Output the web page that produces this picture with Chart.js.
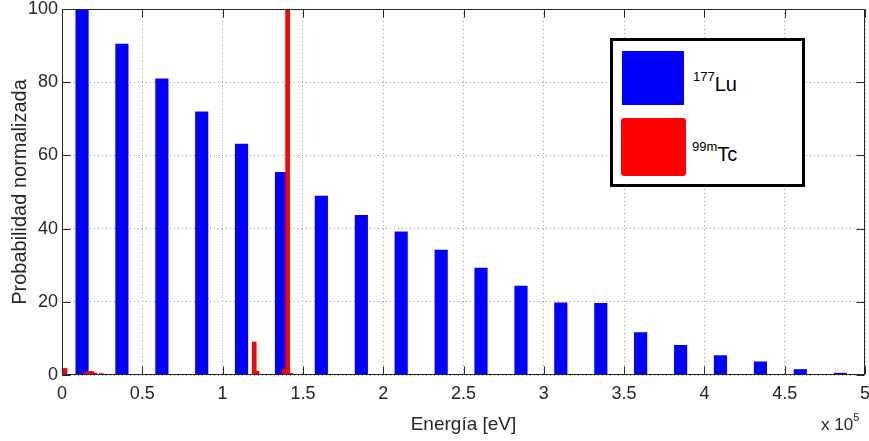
<!DOCTYPE html>
<html>
<head>
<meta charset="utf-8">
<title>Espectros 177Lu y 99mTc</title>
<script src="https://cdn.jsdelivr.net/npm/chart.js@4/dist/chart.umd.min.js"></script>
<style>
  body { margin: 0; background: #fff; }
  #wrap { position: relative; width: 869px; height: 441px; font-family: "Liberation Sans", Arial, sans-serif; color: #000; }
  #legend { position: absolute; left: 610px; top: 38px; width: 189px; height: 143px; border: 3px solid #000; background: #fff; }
  .swatch { position: absolute; }
  .label { position: absolute; font-size: 20px; line-height: 20px; white-space: nowrap; }
  .label sup, #mult sup { vertical-align: baseline; position: relative; font-size: 13px; }
  .label sup { top: -10px; }
  #mult { position: absolute; left: 821px; top: 416px; font-size: 17px; line-height: 17px; color: #262626; }
  #mult sup { top: -9px; font-size: 11px; }
</style>
</head>
<body>
<div id="wrap">
  <canvas id="spectrum" width="869" height="441"></canvas>
  <div id="legend">
    <div class="swatch" style="left:9px;top:10px;width:62px;height:54px;background:#0000ff;"></div>
    <div class="label" style="left:80px;top:33px;"><sup>177</sup>Lu</div>
    <div class="swatch" style="left:8px;top:77px;width:65px;height:58px;background:#ff0000;border-radius:3px;"></div>
    <div class="label" style="left:79px;top:103px;"><sup>99m</sup>Tc</div>
  </div>
  <div id="mult">x 10<sup>5</sup></div>
</div>
<script>
const canvas = document.getElementById("spectrum");

// energias en eV, probabilidad normalizada (%)
const luEnergy = [12500, 37300, 62200, 87000, 111800, 136700, 161500, 186400, 211200, 236100,
  260900, 285800, 310600, 335500, 360300, 385200, 410000, 434900, 459700, 484600];
const luProb = [100, 90.4, 80.9, 71.9, 63.1, 55.4, 48.9, 43.6, 39.1, 34.1,
  29.2, 24.3, 19.7, 19.6, 11.6, 8.1, 5.3, 3.6, 1.5, 0.5];

const tcEnergy = [1900, 14500, 16500, 18500, 20500, 24500, 119700, 121500, 138500, 140500, 142300];
const tcProb = [1.8, 0.5, 0.9, 1.0, 0.5, 0.4, 9.0, 1.0, 1.6, 100, 0.5];

const xTicksMax = 500000;
const xTickStep = 50000;
const yTicksMax = 100;
const yTickStep = 20;

const axisColor = "#262626";
const tickFont = { family: "'Liberation Sans', Arial, sans-serif", size: 18 };

function toPoints(xs, ys) {
  return xs.map((x, i) => ({ x: x, y: ys[i] }));
}

// caja y marcas de los ejes al estilo matlab
const matlabFrame = {
  id: "matlabFrame",
  afterDraw(chart) {
    const { ctx, chartArea, scales } = chart;
    const left = Math.round(chartArea.left) + 0.5;
    const right = Math.round(chartArea.right) - 0.5;
    const top = Math.round(chartArea.top) + 0.5;
    const bottom = Math.round(chartArea.bottom) - 0.5;
    const len = 8;
    ctx.save();
    ctx.strokeStyle = axisColor;
    ctx.lineWidth = 1;
    ctx.beginPath();
    ctx.rect(left, top, right - left, bottom - top);
    scales.x.ticks.forEach((t) => {
      const px = Math.round(scales.x.getPixelForValue(t.value)) + 0.5;
      ctx.moveTo(px, bottom);
      ctx.lineTo(px, bottom - len);
      ctx.moveTo(px, top);
      ctx.lineTo(px, top + len);
    });
    scales.y.ticks.forEach((t) => {
      const py = Math.round(scales.y.getPixelForValue(t.value)) + 0.5;
      ctx.moveTo(left, py);
      ctx.lineTo(left + len, py);
      ctx.moveTo(right, py);
      ctx.lineTo(right - len, py);
    });
    ctx.stroke();
    ctx.restore();
  },
};

new Chart(canvas, {
  type: "bar",
  data: {
    datasets: [
      {
        label: "177Lu",
        data: toPoints(luEnergy, luProb),
        backgroundColor: "#0000ff",
        barThickness: 12.5,
        grouped: false,
        order: 1,
      },
      {
        label: "99mTc",
        data: toPoints(tcEnergy, tcProb),
        backgroundColor: "#ff0000",
        barThickness: 4,
        grouped: false,
        order: 0,
      },
    ],
  },
  options: {
    responsive: false,
    animation: false,
    layout: { padding: { top: 9, right: 4, left: 0, bottom: 0 } },
    plugins: {
      legend: { display: false },
      tooltip: { enabled: false },
    },
    scales: {
      x: {
        type: "linear",
        min: 0,
        max: xTicksMax,
        offset: false,
        ticks: {
          stepSize: xTickStep,
          autoSkip: false,
          maxRotation: 0,
          padding: 8,
          color: axisColor,
          font: tickFont,
          callback: (v) => v / 1e5,
        },
        grid: { color: "#999", drawTicks: false, offset: false, lineWidth: 1 },
        border: { display: false, dash: [1, 3] },
        title: {
          display: true,
          text: "Energía [eV]",
          color: axisColor,
          font: { family: "'Liberation Sans', Arial, sans-serif", size: 19 },
          padding: { top: 0, bottom: 5 },
        },
        afterFit(scale) {
          scale.height = 66;
          scale.paddingLeft = 0;
          scale.paddingRight = 0;
        },
      },
      y: {
        min: 0,
        max: yTicksMax,
        ticks: {
          stepSize: yTickStep,
          padding: 4,
          color: axisColor,
          font: tickFont,
        },
        grid: { color: "#999", drawTicks: false, lineWidth: 1 },
        border: { display: false, dash: [1, 3] },
        title: {
          display: true,
          text: "Probabilidad normalizada",
          color: axisColor,
          font: { family: "'Liberation Sans', Arial, sans-serif", size: 20 },
          padding: { top: 8, bottom: 0 },
        },
        afterFit(scale) {
          scale.width = 62;
          scale.paddingTop = 0;
          scale.paddingBottom = 0;
        },
      },
    },
  },
  plugins: [matlabFrame],
});
</script>
</body>
</html>
